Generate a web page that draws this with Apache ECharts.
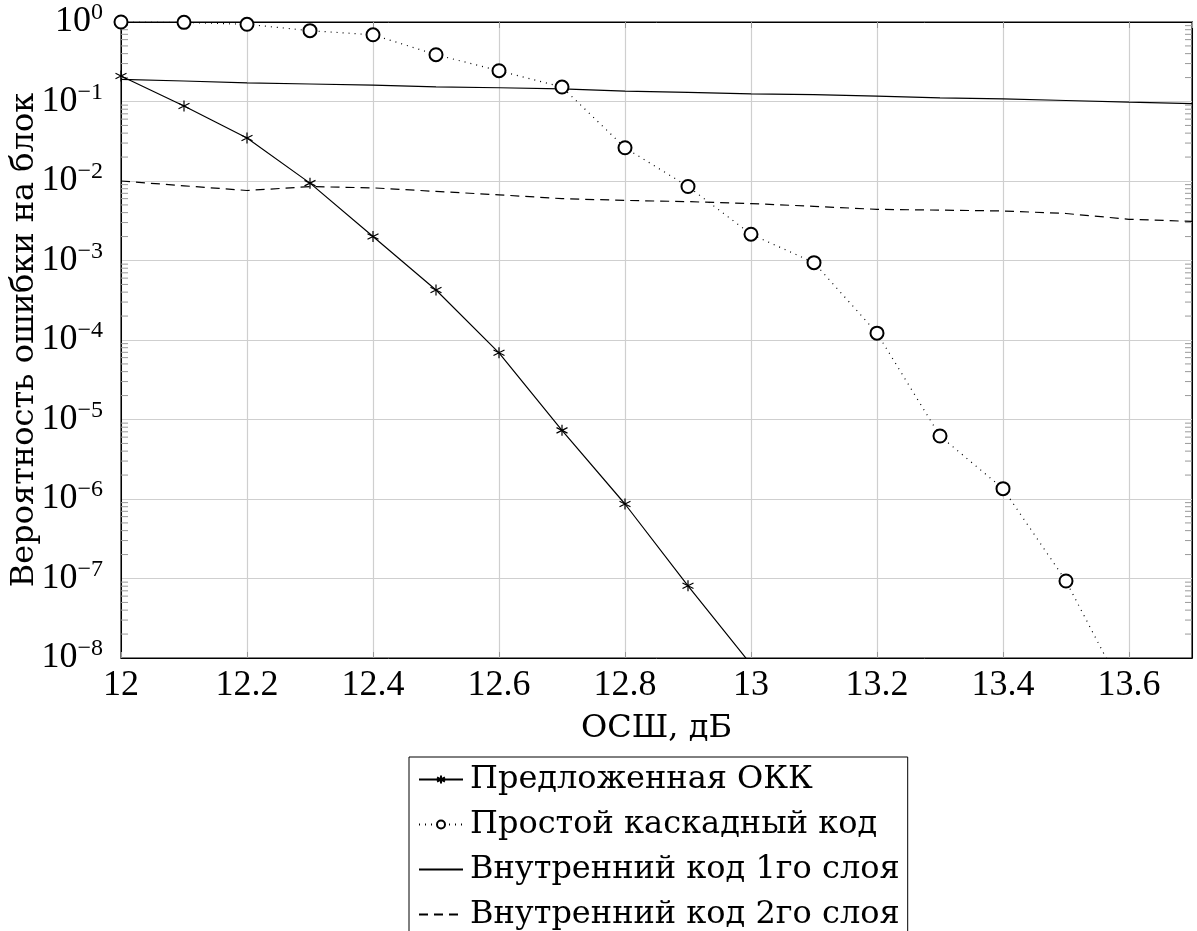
<!DOCTYPE html>
<html>
<head>
<meta charset="utf-8">
<script src="https://cdn.jsdelivr.net/npm/echarts@6/dist/echarts.min.js"></script>
<style>
  html, body { margin: 0; padding: 0; background: #fff; }
  #chart { width: 1197px; height: 931px; }
</style>
</head>
<body>
<div id="chart"></div>
<script>
// Предложенная ОКК
const snrOkk = [12.0, 12.1, 12.2, 12.3, 12.4, 12.5, 12.6, 12.7, 12.8, 12.9, 13.0];
const okk = [0.209, 0.0877, 0.0347, 0.0094, 0.002, 4.25e-4, 6.9e-5, 7.3e-6, 8.65e-7, 8.1e-8, 8.3e-9];

// Простой каскадный код
const snrCascade = [12.0, 12.1, 12.2, 12.3, 12.4, 12.5, 12.6, 12.7, 12.8, 12.9, 13.0, 13.1, 13.2, 13.3, 13.4, 13.5, 13.6];
const cascade = [1.0, 0.99, 0.935, 0.778, 0.69, 0.388, 0.244, 0.152, 0.0262, 0.00853, 0.00214, 9.4e-4, 1.22e-4, 6.2e-6, 1.35e-6, 9.3e-8, 2.8e-9];

// Внутренние коды
const snrInner = [12.0, 12.1, 12.2, 12.3, 12.4, 12.5, 12.6, 12.7, 12.8, 12.9, 13.0, 13.1, 13.2, 13.3, 13.4, 13.5, 13.6, 13.7];
const inner1 = [0.19, 0.181, 0.172, 0.166, 0.161, 0.153, 0.149, 0.144, 0.135, 0.13, 0.125, 0.122, 0.117, 0.111, 0.108, 0.103, 0.098, 0.094];
const inner2 = [0.01, 0.0087, 0.0076, 0.0085, 0.0082, 0.0074, 0.0067, 0.006, 0.0057, 0.0055, 0.0052, 0.0048, 0.0044, 0.0043, 0.0042, 0.0039, 0.0033, 0.0031];

const names = [
  "Предложенная ОКК",
  "Простой каскадный код",
  "Внутренний код 1го слоя",
  "Внутренний код 2го слоя",
];

// минорные деления логарифмической оси
const minorTicks = [];
for (let e = -8; e < 0; e++) {
  for (let m = 2; m <= 9; m++) minorTicks.push(m * Math.pow(10, e));
}

const xMin = 12, xMax = 13.7;
const numFont = "Liberation Serif";
const textFont = "DejaVu Serif";
const star = "path://M0,-1L0,1M-0.866,-0.5L0.866,0.5M-0.866,0.5L0.866,-0.5";

function pairs(xs, ys) {
  return xs.map((x, i) => [x, ys[i]]);
}

const chart = echarts.init(document.getElementById("chart"));

const option = {
  animation: false,
  textStyle: { fontFamily: numFont, color: "#000" },
  grid: {
    left: 121, right: 5, top: 22, bottom: 273,
    outerBoundsMode: "none",
    containLabel: false,
    show: true, borderColor: "#000", borderWidth: 1.2,
  },
  legend: {
    data: [
      { name: names[0] },
      { name: names[1] },
      { name: names[2], itemStyle: { opacity: 0 } },
      { name: names[3], itemStyle: { opacity: 0 } },
    ],
    orient: "vertical",
    left: 409,
    top: 757,
    height: 400,
    itemWidth: 44,
    itemHeight: 10,
    itemGap: 10,
    padding: [5, 8, 30, 9],
    borderColor: "#000",
    borderWidth: 1,
    textStyle: { fontFamily: textFont, fontSize: 32, lineHeight: 35, color: "#000", padding: [0, 0, 0, 2] },
  },
  xAxis: [
    {
      type: "value",
      min: xMin, max: xMax, interval: 0.2,
      name: "ОСШ, дБ",
      nameLocation: "middle",
      nameGap: 55,
      nameTextStyle: { fontFamily: textFont, fontSize: 32, color: "#000" },
      axisLine: { show: true, lineStyle: { color: "#000" } },
      axisTick: { show: true, inside: true, length: 6, lineStyle: { color: "#999" } },
      axisLabel: { fontFamily: numFont, fontSize: 36, color: "#000", margin: 10, showMaxLabel: false },
      splitLine: { show: true, lineStyle: { color: "#cfcfcf", width: 1.2 } },
    },
    {
      type: "value", position: "top",
      min: xMin, max: xMax, interval: 0.2,
      axisLine: { show: true, lineStyle: { color: "#000" } },
      axisTick: { show: true, inside: true, length: 6, lineStyle: { color: "#999" } },
      axisLabel: { show: false },
      splitLine: { show: false },
    },
  ],
  yAxis: [
    {
      type: "log", logBase: 10,
      min: 1e-8, max: 1,
      name: "Вероятность ошибки на блок",
      nameLocation: "middle",
      nameGap: 80,
      nameMoveOverlap: false,
      nameTextStyle: { fontFamily: textFont, fontSize: 32, color: "#000" },
      axisLine: { show: true, lineStyle: { color: "#000" } },
      axisTick: { show: false },
      axisLabel: {
        margin: 18,
        formatter: function (v) {
          const e = Math.round(Math.log10(v));
          return "{b|10}{s|" + (e < 0 ? "−" + (-e) : e) + "}";
        },
        rich: {
          b: { fontFamily: numFont, fontSize: 36, color: "#000" },
          s: { fontFamily: numFont, fontSize: 24, color: "#000", padding: [0, 0, 18, 0] },
        },
      },
      splitLine: { show: true, lineStyle: { color: "#cfcfcf", width: 1.2 } },
    },
    {
      type: "log", logBase: 10, position: "right",
      min: 1e-8, max: 1,
      axisLine: { show: true, lineStyle: { color: "#000" } },
      axisTick: { show: false },
      axisLabel: { show: false },
      splitLine: { show: false },
    },
  ],
  series: [
    {
      name: names[0],
      type: "line",
      data: pairs(snrOkk, okk),
      symbol: star,
      symbolSize: 11,
      itemStyle: { color: "#000", borderColor: "#000", borderWidth: 1.2 },
      lineStyle: { color: "#000", width: 1.2, type: "solid" },
      clip: true,
      z: 5,
    },
    {
      name: names[1],
      type: "line",
      data: pairs(snrCascade, cascade),
      symbol: "emptyCircle",
      symbolSize: 13,
      itemStyle: { color: "#000", borderColor: "#000", borderWidth: 1.2 },
      lineStyle: { color: "#000", width: 1.2, type: [1, 5] },
      clip: true,
      z: 5,
    },
    {
      name: names[2],
      type: "line",
      data: pairs(snrInner, inner1),
      symbol: "none",
      itemStyle: { color: "#000" },
      lineStyle: { color: "#000", width: 1.2, type: "solid" },
      clip: true,
      z: 4,
    },
    {
      name: names[3],
      type: "line",
      data: pairs(snrInner, inner2),
      symbol: "none",
      itemStyle: { color: "#000" },
      lineStyle: { color: "#000", width: 1.2, type: [9, 6] },
      clip: true,
      z: 4,
    },
    {
      type: "custom",
      silent: true,
      data: minorTicks.map((v) => [v]),
      encode: { y: 0 },
      renderItem: function (params, api) {
        const v = api.value(0);
        const l = api.coord([xMin, v]);
        const r = api.coord([xMax, v]);
        const style = { stroke: "#999", lineWidth: 1 };
        return {
          type: "group",
          children: [
            { type: "line", shape: { x1: l[0], y1: l[1], x2: l[0] + 7, y2: l[1] }, style: style },
            { type: "line", shape: { x1: r[0], y1: r[1], x2: r[0] - 7, y2: r[1] }, style: style },
          ],
        };
      },
      z: 3,
    },
  ],
};

option && chart.setOption(option);
</script>
</body>
</html>
